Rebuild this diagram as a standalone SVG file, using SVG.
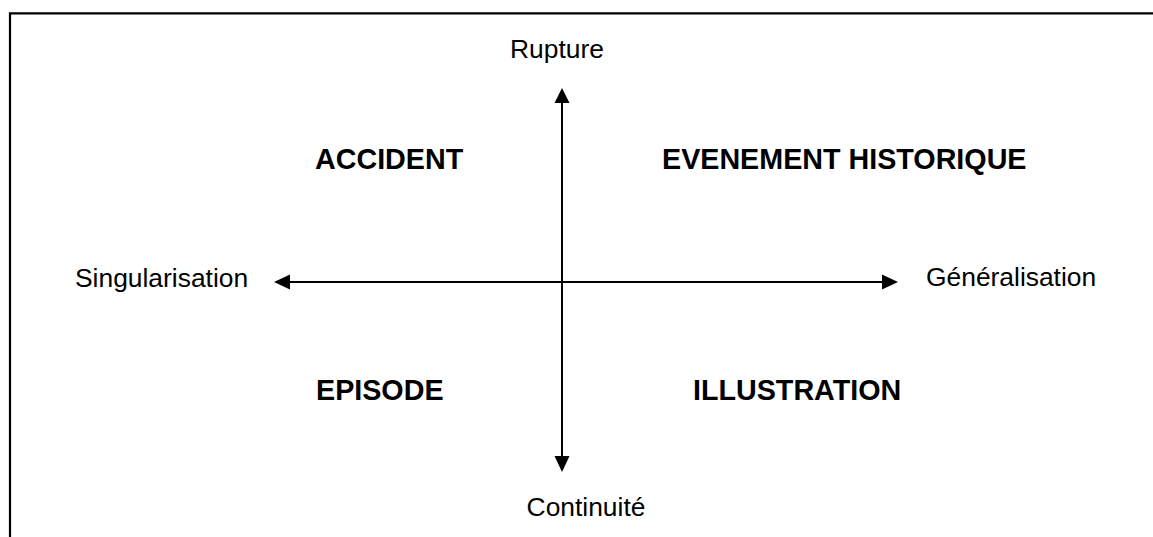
<svg xmlns="http://www.w3.org/2000/svg" width="1153" height="537" viewBox="0 0 1153 537">
<style>
.reg{font-family:"Liberation Sans",Arial,sans-serif;font-size:26.4px;fill:#000}
.bold{font-family:"Liberation Sans",Arial,sans-serif;font-size:28.7px;font-weight:bold;fill:#000}
.axis{stroke:#000;stroke-width:2;fill:none}
.head{fill:#000}
</style>
<rect width="1153" height="537" fill="#fff"/>
<g id="frame">
<path d="M10 537 V13.3 H1153" fill="none" stroke="#000" stroke-width="2.2"/>
</g>
<g id="connectors">
<line class="axis" x1="562" y1="100" x2="562" y2="459"/>
<line class="axis" x1="287" y1="282" x2="885" y2="282"/>
<polygon class="head" points="562,88 554.5,103 569.5,103"/>
<polygon class="head" points="562,472 554.5,456 569.5,456"/>
<polygon class="head" points="274,282 290,274.5 290,289.5"/>
<polygon class="head" points="898,282 882,274.5 882,289.5"/>
</g>
<g id="rupture"><text class="reg" x="557" y="58" text-anchor="middle">Rupture</text></g>
<g id="continuite"><text class="reg" x="586" y="516" text-anchor="middle">Continuité</text></g>
<g id="singularisation"><text class="reg" x="75" y="287">Singularisation</text></g>
<g id="generalisation"><text class="reg" x="926" y="286">Généralisation</text></g>
<g id="accident"><text class="bold" x="315" y="169">ACCIDENT</text></g>
<g id="evenement"><text class="bold" x="662" y="169">EVENEMENT HISTORIQUE</text></g>
<g id="episode"><text class="bold" x="316" y="400">EPISODE</text></g>
<g id="illustration"><text class="bold" x="693" y="400">ILLUSTRATION</text></g>
</svg>
